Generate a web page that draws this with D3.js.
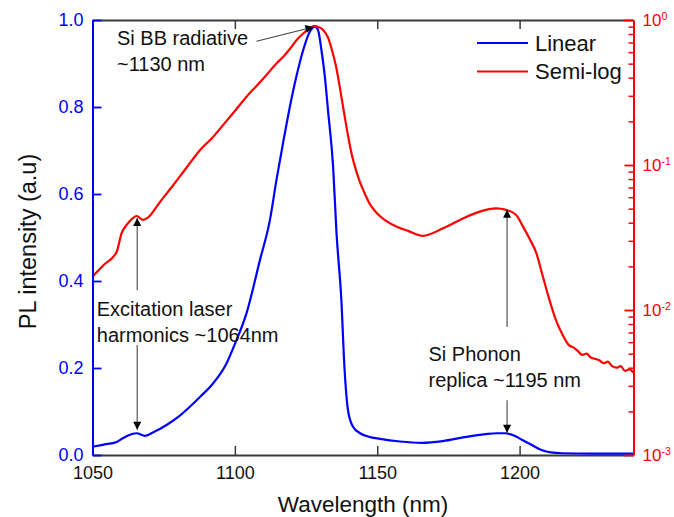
<!DOCTYPE html>
<html>
<head>
<meta charset="utf-8">
<script src="https://cdn.jsdelivr.net/npm/d3@7"></script>
<style>
  body { margin: 0; background: #fff; }
  svg { display: block; font-family: "Liberation Sans", Arial, sans-serif; }
</style>
</head>
<body>
<svg id="chart" width="674" height="517"></svg>
<script>
// PL spectrum, normalised, plotted on a linear scale (left axis)
const linearWavelength = [1050, 1054, 1058.5, 1060.5, 1062.5, 1065.5, 1068.4, 1071, 1076, 1080, 1084.2, 1088, 1092.4, 1097.1, 1100, 1104.1, 1108.8, 1112.3, 1114.6, 1117, 1119.3, 1121.6, 1124, 1126.3, 1128.1, 1129.2, 1130.4, 1131.6, 1132.7, 1134.5, 1135.7, 1137.4, 1138.5, 1139.8, 1141.5, 1144, 1147, 1151, 1158, 1165.7, 1173, 1180.6, 1188, 1192, 1195, 1198, 1200.8, 1204, 1207.9, 1211, 1215, 1225, 1240];
const linearIntensity = [0.019, 0.024, 0.030, 0.038, 0.045, 0.050, 0.044, 0.051, 0.069, 0.087, 0.111, 0.135, 0.165, 0.211, 0.255, 0.326, 0.448, 0.540, 0.632, 0.720, 0.800, 0.870, 0.931, 0.973, 0.985, 0.977, 0.931, 0.870, 0.793, 0.663, 0.510, 0.356, 0.200, 0.100, 0.065, 0.050, 0.042, 0.037, 0.031, 0.028, 0.032, 0.041, 0.048, 0.050, 0.050, 0.045, 0.035, 0.024, 0.011, 0.006, 0.004, 0.003, 0.003];

// Same spectrum on a logarithmic scale (right axis)
const semilogWavelength = [1050, 1054, 1058.5, 1060.2, 1062, 1063.7, 1065.5, 1067.8, 1069.6, 1073.7, 1078.4, 1082.8, 1087.8, 1092, 1095.9, 1100, 1104.1, 1107.6, 1111.1, 1114.6, 1117, 1119.3, 1121.7, 1124, 1126, 1128.1, 1129.2, 1131, 1132.8, 1134.1, 1135.5, 1136.9, 1138.3, 1139.7, 1141.1, 1142.5, 1143.9, 1145.7, 1147.4, 1149.2, 1150.9, 1156.7, 1161, 1166.1, 1173.1, 1180.1, 1186, 1191.8, 1195.3, 1198.8, 1201.2, 1203.5, 1205.9, 1208, 1210.5, 1212.6, 1215, 1217.4, 1219, 1220.5, 1222, 1223.5, 1225, 1226.5, 1228, 1229.5, 1231, 1232.5, 1234, 1235.5, 1237, 1238.5, 1240];
const semilogIntensity = [0.0170, 0.0205, 0.0252, 0.0338, 0.0386, 0.0422, 0.0445, 0.0418, 0.0436, 0.0556, 0.0728, 0.0946, 0.127, 0.1535, 0.189, 0.236, 0.296, 0.351, 0.418, 0.501, 0.558, 0.631, 0.728, 0.807, 0.867, 0.910, 0.895, 0.853, 0.751, 0.621, 0.482, 0.340, 0.232, 0.161, 0.117, 0.0925, 0.0764, 0.0630, 0.0538, 0.0482, 0.0445, 0.0376, 0.0350, 0.0325, 0.0366, 0.0428, 0.0477, 0.0502, 0.0490, 0.0452, 0.0376, 0.0310, 0.0246, 0.0175, 0.0117, 0.0087, 0.0068, 0.0057, 0.0055, 0.0052, 0.0049, 0.0050, 0.0047, 0.0046, 0.0045, 0.0043, 0.0044, 0.0041, 0.0040, 0.0041, 0.0038, 0.0039, 0.0037];

const seriesNames = ["Linear", "Semi-log"];
const xTickValues = [1050, 1100, 1150, 1200];
const leftTickValues = [0, 0.2, 0.4, 0.6, 0.8, 1.0];
const rightDecades = [1e-3, 1e-2, 1e-1, 1];
const rightExponents = ["-3", "-2", "-1", "0"];

// Annotation labels (anchor in wavelength / linear intensity units)
const annotationText = [
  ["Si BB radiative", "~1130 nm"],
  ["Excitation laser", "harmonics ~1064nm"],
  ["Si Phonon", "replica ~1195 nm"]
];
const annotationAnchor = [[1058.6, 0.9425], [1051.5, 0.3195], [1168, 0.216]];
// Arrows: [fromWavelength, fromIntensity, toWavelength, toIntensity]
const annotationArrows = [
  [1107.6, 0.951, 1127.6, 0.984],
  [1065.7, 0.379, 1065.7, 0.545],
  [1065.7, 0.253, 1065.7, 0.058],
  [1195.6, 0.294, 1195.6, 0.564],
  [1195.6, 0.126, 1195.6, 0.051]
];

const BLUE = "#0000ff", RED = "#ff0000", DARK = "#3a3a3a";
const plotLeft = 92.5, plotRight = 633.5, plotTop = 20, plotBottom = 455;

const svg = d3.select("#chart");

const x = d3.scaleLinear().domain([1050, 1240]).range([plotLeft, plotRight]);
const yLin = d3.scaleLinear().domain([0, 1]).range([plotBottom, plotTop]);
const yLog = d3.scaleLog().domain([1e-3, 1]).range([plotBottom, plotTop]);

svg.append("defs").append("marker")
  .attr("id", "arrowHead")
  .attr("viewBox", "0 0 10 10")
  .attr("refX", 10).attr("refY", 5)
  .attr("markerUnits", "userSpaceOnUse")
  .attr("markerWidth", 12).attr("markerHeight", 8)
  .attr("orient", "auto")
  .append("path").attr("d", "M0,0 L10,5 L0,10 Z").attr("fill", "#000");

// Bottom axis
const gBottom = svg.append("g").attr("transform", `translate(0,${plotBottom})`)
  .call(d3.axisBottom(x).tickValues(xTickValues).tickSizeInner(-9).tickSizeOuter(0).tickPadding(11).tickFormat(d3.format("d")));
gBottom.select(".domain").attr("stroke", DARK).attr("stroke-width", 1.8);
gBottom.selectAll(".tick line").attr("stroke", DARK).attr("stroke-width", 1.5);
gBottom.selectAll("text").attr("font-size", 18).attr("fill", "#111").attr("font-family", null);

// Top axis (ticks only)
const gTop = svg.append("g").attr("transform", `translate(0,${plotTop})`)
  .call(d3.axisTop(x).tickValues(xTickValues).tickSizeInner(-9).tickSizeOuter(0).tickFormat(""));
gTop.select(".domain").attr("stroke", DARK).attr("stroke-width", 1.8);
gTop.selectAll(".tick line").attr("stroke", DARK).attr("stroke-width", 1.5);

// Curves
const lineLin = d3.line().x(i => x(linearWavelength[i])).y(i => yLin(linearIntensity[i])).curve(d3.curveMonotoneX);
const lineLog = d3.line().x(i => x(semilogWavelength[i])).y(i => yLog(semilogIntensity[i])).curve(d3.curveMonotoneX);

svg.append("path").attr("d", lineLin(d3.range(linearWavelength.length)))
  .attr("fill", "none").attr("stroke", BLUE).attr("stroke-width", 2.2).attr("stroke-linejoin", "round");
svg.append("path").attr("d", lineLog(d3.range(semilogWavelength.length)))
  .attr("fill", "none").attr("stroke", RED).attr("stroke-width", 2.2).attr("stroke-linejoin", "round");

// Left axis (linear)
const gLeft = svg.append("g").attr("transform", `translate(${plotLeft},0)`)
  .call(d3.axisLeft(yLin).tickValues(leftTickValues).tickSizeInner(-9).tickSizeOuter(0).tickPadding(9).tickFormat(d3.format(".1f")));
gLeft.select(".domain").attr("stroke", BLUE).attr("stroke-width", 2);
gLeft.selectAll(".tick line").attr("stroke", BLUE).attr("stroke-width", 1.8);
gLeft.selectAll("text").attr("font-size", 18).attr("fill", BLUE).attr("font-family", null);

// Right axis (log) with minor ticks
const minorTicks = [];
rightDecades.slice(0, 3).forEach(d => { for (let k = 2; k <= 9; k++) minorTicks.push(d * k); });

const gRightMinor = svg.append("g").attr("transform", `translate(${plotRight},0)`)
  .call(d3.axisRight(yLog).tickValues(minorTicks).tickSizeInner(-5).tickSizeOuter(0).tickFormat(""));
gRightMinor.select(".domain").remove();
gRightMinor.selectAll(".tick line").attr("stroke", RED).attr("stroke-width", 1.5);

const gRight = svg.append("g").attr("transform", `translate(${plotRight},0)`)
  .call(d3.axisRight(yLog).tickValues(rightDecades).tickSizeInner(-9).tickSizeOuter(0).tickPadding(9).tickFormat(""));
gRight.select(".domain").attr("stroke", RED).attr("stroke-width", 2);
gRight.selectAll(".tick line").attr("stroke", RED).attr("stroke-width", 1.8);
gRight.selectAll(".tick text").each(function (d, i) {
  const t = d3.select(this).attr("font-size", 17).attr("fill", RED).attr("font-family", null);
  t.append("tspan").text("10");
  t.append("tspan").attr("dy", "-0.55em").attr("font-size", 10.5).text(rightExponents[i]);
});

// Axis titles
svg.append("text").attr("x", (plotLeft + plotRight) / 2).attr("y", 512)
  .attr("text-anchor", "middle").attr("font-size", 22.5).attr("fill", "#111")
  .text("Wavelength (nm)");
svg.append("text").attr("transform", `translate(36,${(plotTop + plotBottom) / 2 + 4}) rotate(-90)`)
  .attr("text-anchor", "middle").attr("font-size", 23.5).attr("fill", "#111")
  .text("PL intensity (a.u)");

// Legend
const legendColors = [BLUE, RED];
const legend = svg.append("g");
seriesNames.forEach((name, i) => {
  const ly = 43 + i * 28.5;
  legend.append("line").attr("x1", 477).attr("x2", 528).attr("y1", ly).attr("y2", ly)
    .attr("stroke", legendColors[i]).attr("stroke-width", 2.2);
  legend.append("text").attr("x", 535).attr("y", ly + 7.8)
    .attr("font-size", 22).attr("fill", "#111").text(name);
});

// Annotations
annotationText.forEach((lines, i) => {
  const [ax, ay] = annotationAnchor[i];
  const t = svg.append("text").attr("x", x(ax)).attr("y", yLin(ay))
    .attr("font-size", 20).attr("fill", "#111");
  lines.forEach((s, j) => {
    t.append("tspan").attr("x", x(ax)).attr("dy", j === 0 ? 0 : 25.7).text(s);
  });
});
annotationArrows.forEach(([x1, y1, x2, y2]) => {
  svg.append("line")
    .attr("x1", x(x1)).attr("y1", yLin(y1)).attr("x2", x(x2)).attr("y2", yLin(y2))
    .attr("stroke", "#444").attr("stroke-width", 1.1)
    .attr("marker-end", "url(#arrowHead)");
});
</script>
</body>
</html>
